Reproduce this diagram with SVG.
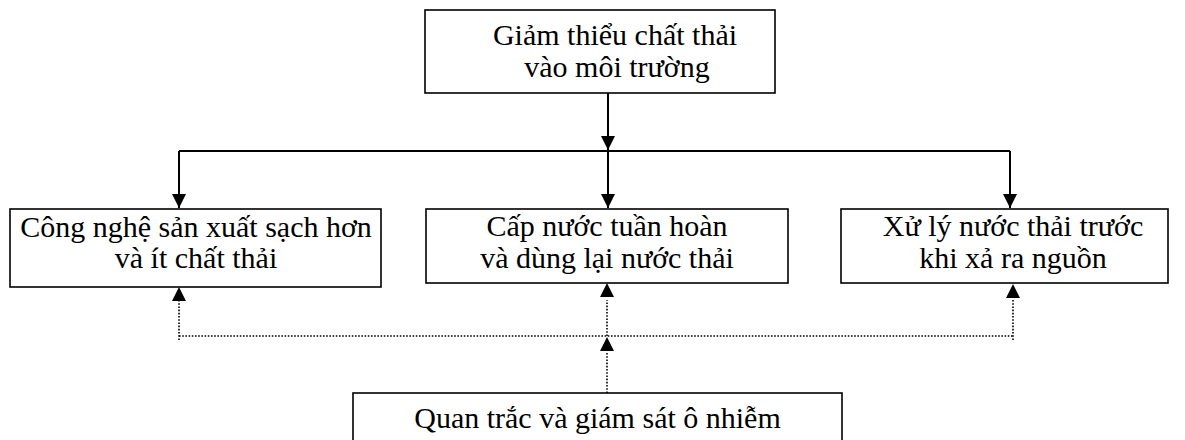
<svg xmlns="http://www.w3.org/2000/svg" width="1185" height="440" viewBox="0 0 1185 440">
<style>
.box{fill:#fff;stroke:#000;stroke-width:1.6}
.t{font-family:"Liberation Serif","Times New Roman",serif;font-size:30px;fill:#000;text-anchor:middle}
.solid{fill:none;stroke:#000;stroke-width:2}
.dot{fill:none;stroke:#000;stroke-width:1.6;stroke-dasharray:1.6 1.6}
</style>
<defs>
<marker id="ah" viewBox="0 0 14 14" refX="14" refY="7" markerWidth="14" markerHeight="14" markerUnits="userSpaceOnUse" orient="auto">
<path d="M0,0 L14,7 L0,14 Z" fill="#000"/>
</marker>
</defs>
<rect width="1185" height="440" fill="#fff"/>
<g id="connectors">
<path class="solid" d="M608,93 V150" marker-end="url(#ah)"/>
<path class="solid" d="M179,151 H1010"/>
<path class="solid" d="M179,151 V208" marker-end="url(#ah)"/>
<path class="solid" d="M608,151 V208" marker-end="url(#ah)"/>
<path class="solid" d="M1010,151 V208" marker-end="url(#ah)"/>
<path class="dot" d="M179,340 V300"/>
<path class="dot" d="M607,336 V300"/>
<path class="dot" d="M1013,340 V300"/>
<path class="dot" d="M179,336 H1013"/>
<path class="dot" d="M607,393 V352"/>
<path d="M179,287 L172,301 L186,301 Z M607,283 L600,297 L614,297 Z M1013,284 L1006,298 L1020,298 Z M607,337 L600,351 L614,351 Z" fill="#000"/>
</g>
<g id="top">
<rect class="box" x="425" y="10" width="350" height="83"/>
<text class="t" x="615" y="45">Giảm thiểu chất thải</text>
<text class="t" x="617" y="77">vào môi trường</text>
</g>
<g id="left">
<rect class="box" x="10" y="209" width="371" height="78"/>
<text class="t" x="196" y="237">Công nghệ sản xuất sạch hơn</text>
<text class="t" x="196" y="268">và ít chất thải</text>
</g>
<g id="middle">
<rect class="box" x="426" y="209" width="362" height="74"/>
<text class="t" x="607" y="236">Cấp nước tuần hoàn</text>
<text class="t" x="607" y="268">và dùng lại nước thải</text>
</g>
<g id="right">
<rect class="box" x="841" y="209" width="327" height="74"/>
<text class="t" x="1013" y="236">Xử lý nước thải trước</text>
<text class="t" x="1013" y="268">khi xả ra nguồn</text>
</g>
<g id="bottom">
<rect class="box" x="353" y="393" width="489" height="60"/>
<text class="t" x="597.5" y="428">Quan trắc và giám sát ô nhiễm</text>
</g>
</svg>
